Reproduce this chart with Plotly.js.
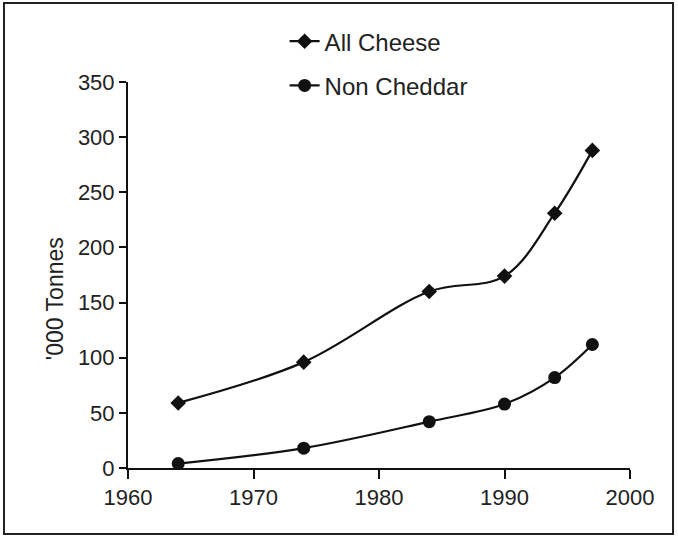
<!DOCTYPE html>
<html>
<head>
<meta charset="utf-8">
<script src="https://cdn.plot.ly/plotly-3.0.1.min.js"></script>
<style>
html,body{margin:0;padding:0;background:#fff;}
#chart{width:678px;height:536px;}
</style>
</head>
<body>
<div id="chart"></div>
<script>
const years = [1964, 1974, 1984, 1990, 1994, 1997];
const allCheese = [59, 96, 160, 174, 231, 288];
const nonCheddar = [4, 18, 42, 58, 82, 112];
const seriesNames = ["All Cheese", "Non Cheddar"];
const xTicks = [1960, 1970, 1980, 1990, 2000];
const yTicks = [0, 50, 100, 150, 200, 250, 300, 350];

const ink = "#111";
const font = "Liberation Sans, Arial, Helvetica, sans-serif";

const traces = [
  {
    x: years, y: allCheese, name: seriesNames[0], type: "scatter", mode: "lines+markers",
    legendgroup: "a",
    line: {color: ink, width: 2.2, shape: "spline", smoothing: 1},
    marker: {symbol: "diamond", size: 12, color: ink}
  },
  {
    x: years, y: nonCheddar, name: seriesNames[1], type: "scatter", mode: "lines+markers",
    legendgroup: "b",
    line: {color: ink, width: 2.2, shape: "spline", smoothing: 1},
    marker: {symbol: "circle", size: 13, color: ink}
  }
];

const layout = {
  width: 678, height: 536,
  paper_bgcolor: "#fff", plot_bgcolor: "#fff",
  margin: {l: 128, r: 48, t: 82, b: 68, autoexpand: false},
  font: {family: font, color: "#222", size: 22},
  showlegend: true,
  legend: {
    x: 0.312, y: 1.163, xanchor: "left", yanchor: "top",
    font: {family: font, size: 24, color: "#222"},
    bgcolor: "rgba(0,0,0,0)", borderwidth: 0,
    traceorder: "grouped", tracegroupgap: 10
  },
  xaxis: {
    range: [1960, 2000], tickvals: xTicks, ticktext: xTicks.map(String),
    showgrid: false, zeroline: false, showline: true, linecolor: ink, linewidth: 2,
    ticks: "outside", ticklen: 9, tickwidth: 2, tickcolor: ink,
    tickfont: {family: font, size: 22, color: "#222"}, fixedrange: true
  },
  yaxis: {
    range: [0, 350], tickvals: yTicks, ticktext: yTicks.map(String),
    showgrid: false, zeroline: false, showline: true, linecolor: ink, linewidth: 2,
    ticks: "outside", ticklen: 7, tickwidth: 2, tickcolor: ink,
    tickfont: {family: font, size: 22, color: "#222"}, fixedrange: true
  },
  annotations: [{
    text: "'000 Tonnes", xref: "paper", yref: "paper",
    x: -0.145, y: 0.438, xanchor: "center", yanchor: "middle",
    textangle: -90, showarrow: false,
    font: {family: font, size: 23, color: "#222"}
  }],
  shapes: [{
    type: "rect", xref: "paper", yref: "paper",
    x0: -0.247, x1: 1.0857, y0: -0.171, y1: 1.2047,
    line: {color: "#222", width: 2}, fillcolor: "rgba(0,0,0,0)", layer: "below"
  }]
};

Plotly.newPlot("chart", traces, layout, {displayModeBar: false, staticPlot: true});
</script>
</body>
</html>
